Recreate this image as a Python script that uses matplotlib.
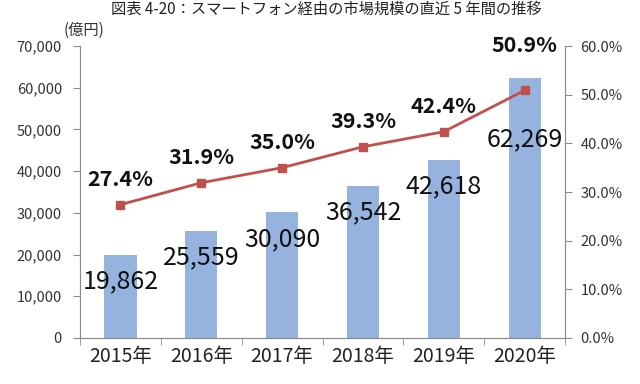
import matplotlib.pyplot as plt
from matplotlib.ticker import FuncFormatter, MultipleLocator

plt.rcParams['font.family'] = ['Noto Sans CJK JP', 'DejaVu Sans']

years = ['2015年', '2016年', '2017年', '2018年', '2019年', '2020年']
market = [19862, 25559, 30090, 36542, 42618, 62269]  # 億円
share = [27.4, 31.9, 35.0, 39.3, 42.4, 50.9]  # %

bar_color = '#95b3de'
line_color = '#c0504d'
axis_color = '#8c8c8c'

fig = plt.figure(figsize=(6.4, 3.84), dpi=100)
ax = fig.add_axes([0.125, 0.12, 0.758, 0.76])
x = list(range(len(years)))

ax.bar(x, market, width=0.4, color=bar_color, zorder=2)
ax.set_xlim(-0.5, len(years) - 0.5)
ax.set_ylim(0, 70000)
ax.yaxis.set_major_locator(MultipleLocator(10000))
ax.yaxis.set_major_formatter(FuncFormatter(lambda v, p: f'{int(v):,}'))
ax.set_xticks(x)
ax.set_xticklabels(years, fontsize=14, color='#222222')
ax.set_xticks([i - 0.5 for i in range(len(years) + 1)], minor=True)
ax.tick_params(axis='x', which='major', length=0, pad=6)
ax.tick_params(axis='x', which='minor', length=5, color=axis_color)
ax.tick_params(axis='y', labelsize=10.5, labelcolor='#333333', length=5, pad=8, color=axis_color)

for i, v in enumerate(market):
    dy = -44 if i == len(market) - 1 else -19
    ax.annotate(f'{v:,}', (i, v), xytext=(0, dy), textcoords='offset points',
                ha='center', va='center', fontsize=18, color='#111111', zorder=5)

ax2 = ax.twinx()
ax2.set_position(ax.get_position())
ax2.plot(x, share, color=line_color, linewidth=2, marker='s', markersize=6, zorder=3)
ax2.set_ylim(0, 60)
ax2.yaxis.set_major_locator(MultipleLocator(10))
ax2.yaxis.set_major_formatter(FuncFormatter(lambda v, p: f'{v:.1f}%'))
ax2.tick_params(axis='y', labelsize=10.5, labelcolor='#333333', length=5, pad=6, color=axis_color)

for i, v in enumerate(share):
    dy = 32 if i == len(share) - 1 else 18
    ax2.annotate(f'{v:.1f}%', (i, v), xytext=(0, dy), textcoords='offset points',
                 ha='center', va='center', fontsize=15.5, fontweight='bold', color='#111111')

for a in (ax, ax2):
    a.spines['top'].set_visible(False)
    for s in ('left', 'right', 'bottom'):
        a.spines[s].set_color(axis_color)

fig.text(0.1, 0.92, '(億円)', fontsize=11, color='#333333', ha='left', va='center')
fig.text(0.51, 0.975, '図表 4-20：スマートフォン経由の市場規模の直近 5 年間の推移',
         fontsize=11, color='#222222', ha='center', va='center')

fig.savefig('out.png', dpi=100)
